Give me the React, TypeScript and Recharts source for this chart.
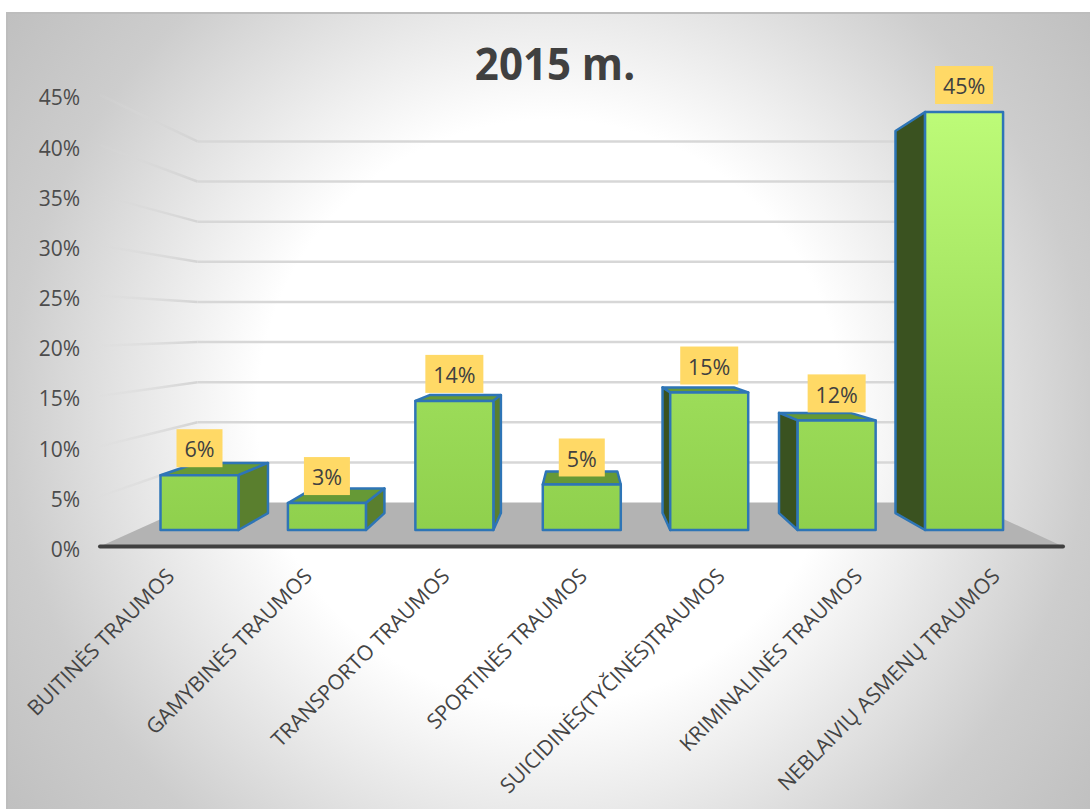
import React from "react";
import { ComposedChart, Bar, Line, XAxis, YAxis, ReferenceLine, LabelList } from "recharts";

const categories = [
  "BUITINĖS TRAUMOS",
  "GAMYBINĖS TRAUMOS",
  "TRANSPORTO TRAUMOS",
  "SPORTINĖS TRAUMOS",
  "SUICIDINĖS(TYČINĖS)TRAUMOS",
  "KRIMINALINĖS TRAUMOS",
  "NEBLAIVIŲ ASMENŲ TRAUMOS",
];
const shares = [5.9, 2.9, 13.9, 4.9, 14.8, 11.8, 45];
const axisTicks = [0, 5, 10, 15, 20, 25, 30, 35, 40, 45];
const rows = categories.map((name, i) => ({ name, share: shares[i] }));

const FONT = "'Open Sans', sans-serif";
// perspective of the pseudo-3D scene
const BAR_VP = { x: 581, y: 333 };
const BAR_DEPTH = 0.086;
const WALL_VP = { x: 587, y: 327 };
const WALL_DEPTH = 0.2;

const Bar3D = (props: any) => {
  const { x, y, width, height } = props;
  const r = x + width;
  const b = y + height;
  const bx = (v: number) => v + (BAR_VP.x - v) * BAR_DEPTH;
  const by = (v: number) => v + (BAR_VP.y - v) * BAR_DEPTH;
  const stroke = { stroke: "#2e75b6", strokeWidth: 2.5, strokeLinejoin: "round" as const };
  return (
    <g>
      {y > BAR_VP.y && (
        <polygon
          points={`${x},${y} ${r},${y} ${bx(r)},${by(y)} ${bx(x)},${by(y)}`}
          fill="#669936"
          {...stroke}
        />
      )}
      {r < BAR_VP.x && (
        <polygon
          points={`${r},${y} ${bx(r)},${by(y)} ${bx(r)},${by(b)} ${r},${b}`}
          fill="#5a7f2e"
          {...stroke}
        />
      )}
      {x > BAR_VP.x && (
        <polygon
          points={`${x},${y} ${bx(x)},${by(y)} ${bx(x)},${by(b)} ${x},${b}`}
          fill="#3a5220"
          {...stroke}
        />
      )}
      <rect x={x} y={y} width={width} height={height} fill="url(#frontFace)" {...stroke} />
    </g>
  );
};

const BarBadge = (props: any) => {
  const { x, y, width, value } = props;
  const text = `${Math.round(Number(value))}%`;
  const w = 22 + 12 * text.length;
  const cx = x + width / 2;
  return (
    <g>
      <rect x={cx - w / 2} y={y - 46} width={w} height={38} fill="#ffd966" />
      <text
        x={cx}
        y={y - 25.5}
        dy="0.36em"
        textAnchor="middle"
        fontFamily={FONT}
        fontSize={21.5}
        fill="#404040"
      >
        {text}
      </text>
    </g>
  );
};

const WallLine = (props: any) => {
  const { x1, y1, x2 } = props;
  const bx1 = x1 + (WALL_VP.x - x1) * WALL_DEPTH;
  const bx2 = x2 + (WALL_VP.x - x2) * WALL_DEPTH;
  const by = y1 + (WALL_VP.y - y1) * WALL_DEPTH;
  return (
    <g>
      <line x1={x1} y1={y1} x2={bx1} y2={by} stroke="url(#sideLine)" strokeWidth={2.5} />
      <line x1={bx1} y1={by} x2={bx2} y2={by} stroke="#d7d7d7" strokeWidth={2.5} />
    </g>
  );
};

const Floor = (props: any) => {
  const { x1, y1, x2 } = props;
  const bx1 = x1 + (WALL_VP.x - x1) * WALL_DEPTH;
  const bx2 = x2 + (WALL_VP.x - x2) * WALL_DEPTH;
  const by = y1 + (WALL_VP.y - y1) * WALL_DEPTH;
  return <polygon points={`${x1},${y1} ${x2},${y1} ${bx2},${by} ${bx1},${by}`} fill="#b3b3b3" />;
};

const CategoryTick = (props: any) => {
  const { x, y, payload } = props;
  const ex = x + 7;
  const ey = y + 23;
  return (
    <text
      x={ex}
      y={ey}
      transform={`rotate(-45 ${ex} ${ey})`}
      textAnchor="end"
      fontFamily={FONT}
      fontSize={21.1}
      fill="#444444"
    >
      {payload.value}
    </text>
  );
};

export default function App() {
  return (
    <div
      style={{
        position: "absolute",
        left: 0,
        top: 0,
        width: 1090,
        height: 809,
        overflow: "hidden",
        background: "#fff",
      }}
    >
      <div
        style={{
          position: "absolute",
          left: 6,
          top: 12,
          width: 1084,
          height: 797,
          boxSizing: "border-box",
          borderTop: "2px solid #bdbdbd",
          borderLeft: "2px solid #bdbdbd",
          background:
            "radial-gradient(circle 680px at 542px 398px, #ffffff 43%, #ececec 57%, #cdcdcd 79.4%, #bfbfbf 100%)",
        }}
      />
      <div
        style={{
          position: "absolute",
          left: 355,
          top: 33,
          width: 400,
          textAlign: "center",
          fontFamily: FONT,
          fontWeight: 700,
          fontSize: 44,
          lineHeight: "60px",
          color: "#404040",
          transform: "scaleX(0.955)",
        }}
      >
        2015 m.
      </div>
      <div style={{ position: "absolute", left: 0, top: 0 }}>
        <ComposedChart
          width={1090}
          height={809}
          data={rows}
          margin={{ top: 95, right: 27, bottom: 0, left: 0 }}
        >
          <defs>
            <linearGradient id="frontFace" gradientUnits="userSpaceOnUse" x1="0" y1="112" x2="0" y2="530">
              <stop offset="0" stopColor="#bdfb78" />
              <stop offset="0.7" stopColor="#9bdb58" />
              <stop offset="1" stopColor="#8fd04d" />
            </linearGradient>
            <linearGradient id="sideLine" gradientUnits="userSpaceOnUse" x1="100" y1="0" x2="197" y2="0">
              <stop offset="0" stopColor="#d9d9d9" stopOpacity="0.1" />
              <stop offset="1" stopColor="#d4d4d4" stopOpacity="1" />
            </linearGradient>
          </defs>
          <XAxis
            dataKey="name"
            type="category"
            interval={0}
            height={262.5}
            tickLine={false}
            axisLine={{ stroke: "#404040", strokeWidth: 4, strokeLinecap: "round" }}
            tick={CategoryTick}
          />
          <XAxis
            xAxisId="bars"
            dataKey="name"
            type="category"
            hide
            height={0}
            padding={{ left: 35.5, right: 35.5 }}
          />
          <YAxis
            yAxisId="front"
            type="number"
            width={100}
            domain={[0, 45]}
            ticks={axisTicks}
            interval={0}
            tickFormatter={(v: number) => `${v}%`}
            axisLine={false}
            tickLine={false}
            tickSize={0}
            tickMargin={20}
            tick={{ fontFamily: FONT, fontSize: 21, fill: "#4c4c4c", dy: 3 }}
          />
          <YAxis yAxisId="bars" type="number" hide width={0} domain={[-1.776, 46.83]} allowDataOverflow />
          <Line
            yAxisId="front"
            dataKey="share"
            stroke="none"
            dot={false}
            activeDot={false}
            legendType="none"
            isAnimationActive={false}
          />
          <ReferenceLine yAxisId="front" y={0} shape={Floor} zIndex={-60} />
          {axisTicks
            .filter((t) => t > 0)
            .map((t) => (
              <ReferenceLine key={t} yAxisId="front" y={t} shape={WallLine} zIndex={-70} />
            ))}
          <Bar
            xAxisId="bars"
            yAxisId="bars"
            dataKey="share"
            barSize={78}
            shape={Bar3D}
            isAnimationActive={false}
          >
            <LabelList dataKey="share" content={BarBadge} />
          </Bar>
        </ComposedChart>
      </div>
    </div>
  );
}
